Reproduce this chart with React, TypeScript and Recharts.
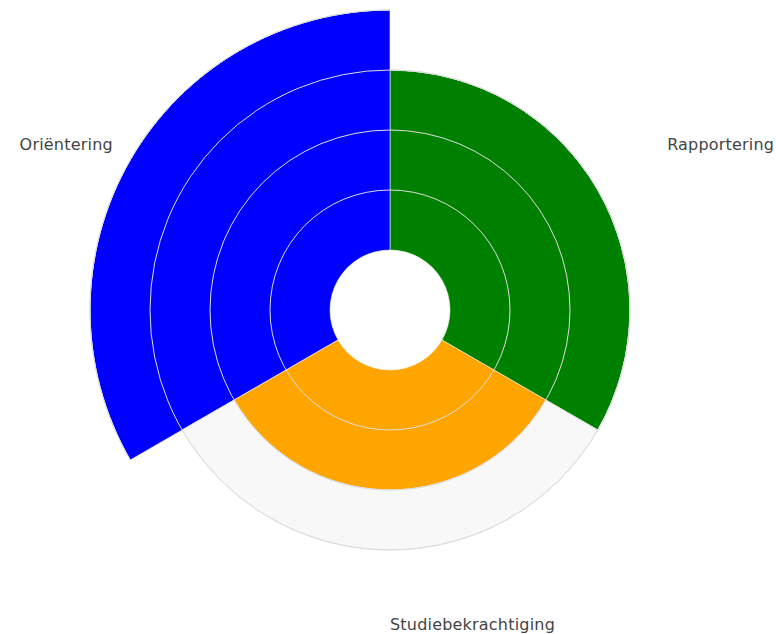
import React from "react";
import {
  RadialBarChart, RadialBar, PolarAngleAxis, PolarRadiusAxis, Cell
} from "recharts";

// counterclockwise order, first band to the upper right
const categories = ["Rapportering", "Oriëntering", "Studiebekrachtiging"];
const scores = [3, 4, 2];
const remainder = [0, 0, 1];
const colors = ["#008000", "#0000ff", "#ffa500"];
const gridValues = [1, 2, 3];
const MAX = 4;

const W = 776;
const H = 634;
const CX = 390;
const CY = 310;
const INNER = 60;
const OUTER = 300;
const LABEL_R = 320;
const RAD = Math.PI / 180;
const HALF_BAND = 360 / categories.length / 2;

const data = categories.map((name, i) => ({
  name,
  score: scores[i],
  rest: remainder[i]
}));

const gridRadii = gridValues.map(v => INNER + (v / MAX) * (OUTER - INNER));

function AngleTick(props: any) {
  // ticks sit at the band start, labels go to the band middle
  const angle = props.payload.coordinate + HALF_BAND;
  const cos = Math.cos(angle * RAD);
  const sin = -Math.sin(angle * RAD);
  return (
    <text
      x={CX + LABEL_R * cos}
      y={CY + LABEL_R * sin}
      textAnchor={cos > -0.01 ? "start" : "end"}
      fill="#444"
      fontSize={16}
      letterSpacing={0.2}
      fontFamily="DejaVu Sans"
    >
      {props.payload.value}
    </text>
  );
}

export default function App() {
  return (
    <div style={{ position: "absolute", left: 0, top: 0, width: W, height: H, background: "#fff" }}>
      <RadialBarChart
        width={W}
        height={H}
        data={data}
        layout="centric"
        cx={CX}
        cy={CY}
        innerRadius={INNER}
        outerRadius={OUTER}
        startAngle={90}
        endAngle={450}
        barCategoryGap={0}
        barGap={0}
        margin={{ top: 0, right: 0, bottom: 0, left: 0 }}
      >
        <PolarAngleAxis
          dataKey="name"
          type="category"
          axisLine={false}
          tickLine={false}
          tick={<AngleTick />}
        />
        <PolarRadiusAxis type="number" domain={[0, MAX]} tick={false} axisLine={false} />
        <RadialBar dataKey="score" stackId="a" isAnimationActive={false} stroke="rgba(255,255,255,0.5)" strokeWidth={1}>
          {data.map((d, i) => (
            <Cell key={d.name} fill={colors[i]} />
          ))}
        </RadialBar>
        <RadialBar dataKey="rest" stackId="a" isAnimationActive={false} fill="#f8f8f8" stroke="#dddddd" strokeWidth={1} />
      </RadialBarChart>
      <svg
        width={W}
        height={H}
        style={{ position: "absolute", left: 0, top: 0, pointerEvents: "none" }}
      >
        {gridRadii.map(r => (
          <circle key={r} cx={CX} cy={CY} r={r} fill="none" stroke="#dddddd" strokeWidth={1} />
        ))}
      </svg>
    </div>
  );
}
